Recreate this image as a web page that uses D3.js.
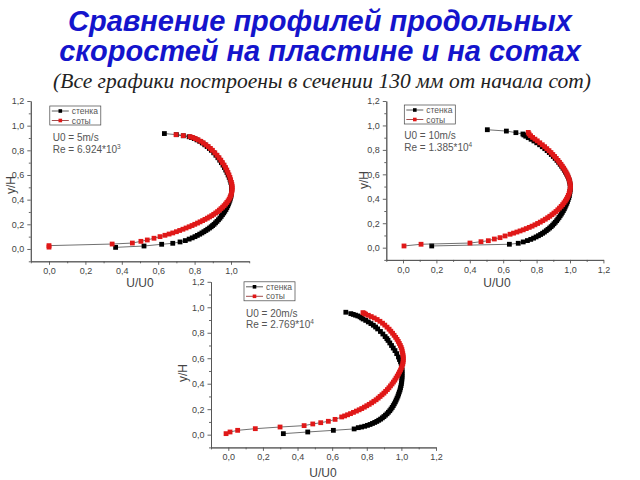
<!DOCTYPE html>
<html><head><meta charset="utf-8">
<script src="https://cdn.jsdelivr.net/npm/d3@7/dist/d3.min.js"></script>
<style>body{margin:0;background:#fff}svg{display:block}</style>
</head><body>
<svg id="c" width="640" height="480"></svg>
<script>
// ---------- data ----------
const titleLines = ["Сравнение профилей продольных", "скоростей на пластине и на сотах"];
const subtitle = "(Все графики построены в сечении 130 мм от начала сот)";
const seriesNames = ["стенка", "соты"];
const xLabel = "U/U0";
const yLabel = "y/H";
const majorTicks = [0, 0.2, 0.4, 0.6, 0.8, 1.0, 1.2];
const minorTicks = [-0.1, 0.1, 0.3, 0.5, 0.7, 0.9, 1.1];
const speeds = ["5", "10", "20"];
const reMantissa = ["6.924", "1.385", "2.769"];
const reExponent = ["3", "4", "4"];

// U0 = 5 m/s : [U/U0, y/H]
const wall5 = [[0.366,0.013],[0.522,0.024],[0.619,0.038],[0.680,0.046],[0.720,0.057],[0.749,0.068],
[0.770,0.080],[0.787,0.090],[0.802,0.100],[0.815,0.110],[0.828,0.120],[0.840,0.130],[0.851,0.140],[0.862,0.150],
[0.872,0.160],[0.882,0.170],[0.891,0.180],[0.899,0.190],[0.907,0.200],[0.915,0.212],[0.923,0.224],[0.931,0.237],
[0.939,0.250],[0.946,0.264],[0.953,0.278],[0.960,0.292],[0.966,0.306],[0.972,0.320],[0.977,0.335],[0.982,0.350],
[0.986,0.365],[0.990,0.380],[0.994,0.396],[0.997,0.412],[1.000,0.428],[1.002,0.445],[1.003,0.462],[1.004,0.480],
[1.004,0.500],[1.002,0.520],[0.999,0.540],[0.995,0.560],[0.990,0.580],[0.984,0.600],[0.978,0.620],[0.971,0.640],
[0.964,0.660],[0.956,0.680],[0.947,0.700],[0.938,0.720],[0.928,0.740],[0.917,0.760],[0.905,0.780],[0.892,0.800],
[0.881,0.815],[0.869,0.830],[0.856,0.845],[0.842,0.860],[0.828,0.873],[0.813,0.885],[0.798,0.895],[0.783,0.904],
[0.770,0.910],[0.738,0.918],[0.700,0.927],[0.634,0.936]];
const cells5 = [[0.000,0.015],[0.000,0.027],[0.347,0.040],[0.458,0.048],[0.505,0.062],[0.540,0.073],[0.577,0.087],
[0.610,0.100],[0.637,0.111],[0.660,0.121],[0.680,0.130],[0.700,0.140],[0.718,0.150],[0.736,0.160],[0.753,0.170],
[0.770,0.180],[0.786,0.190],[0.801,0.200],[0.816,0.210],[0.830,0.220],[0.844,0.230],[0.857,0.240],[0.870,0.250],
[0.882,0.260],[0.894,0.270],[0.905,0.281],[0.916,0.292],[0.926,0.303],[0.936,0.315],[0.945,0.327],[0.954,0.339],
[0.962,0.351],[0.970,0.364],[0.977,0.377],[0.984,0.390],[0.990,0.404],[0.995,0.418],[0.999,0.432],[1.002,0.447],
[1.004,0.462],[1.006,0.477],[1.006,0.492],[1.006,0.507],[1.005,0.522],[1.002,0.540],[0.998,0.560],[0.994,0.580],
[0.989,0.600],[0.983,0.620],[0.977,0.640],[0.970,0.660],[0.962,0.680],[0.953,0.700],[0.944,0.720],[0.934,0.740],
[0.923,0.760],[0.911,0.780],[0.898,0.800],[0.887,0.815],[0.875,0.830],[0.862,0.845],[0.848,0.860],[0.834,0.873],
[0.819,0.885],[0.804,0.895],[0.790,0.904],[0.775,0.911],[0.738,0.919],[0.698,0.927]];

// U0 = 10 m/s
const wall10 = [[0.172,0.014],[0.637,0.028],[0.690,0.036],[0.720,0.047],[0.745,0.058],[0.765,0.068],[0.782,0.078],
[0.797,0.088],[0.811,0.098],[0.824,0.108],[0.836,0.118],[0.847,0.128],[0.858,0.139],[0.868,0.150],[0.878,0.161],
[0.887,0.172],[0.896,0.184],[0.904,0.196],[0.912,0.208],[0.920,0.221],[0.927,0.234],[0.934,0.247],[0.941,0.261],
[0.948,0.275],[0.954,0.289],[0.960,0.303],[0.966,0.318],[0.971,0.333],[0.976,0.348],[0.981,0.363],[0.985,0.378],
[0.989,0.394],[0.993,0.410],[0.996,0.426],[0.998,0.442],[1.000,0.458],[1.001,0.474],[1.002,0.490],[1.002,0.506],
[1.000,0.522],[0.998,0.538],[0.995,0.554],[0.991,0.570],[0.986,0.586],[0.980,0.602],[0.973,0.618],[0.966,0.634],
[0.958,0.650],[0.950,0.666],[0.941,0.682],[0.932,0.698],[0.922,0.714],[0.911,0.730],[0.900,0.746],[0.888,0.762],
[0.876,0.778],[0.863,0.794],[0.849,0.810],[0.834,0.826],[0.818,0.842],[0.801,0.858],[0.784,0.873],[0.767,0.887],
[0.750,0.900],[0.735,0.912],[0.724,0.922],[0.718,0.930],[0.676,0.941],[0.619,0.954],[0.505,0.965]];
const cells10 = [[0.006,0.014],[0.108,0.028],[0.401,0.038],[0.467,0.049],[0.511,0.057],[0.547,0.071],[0.581,0.082],
[0.611,0.096],[0.641,0.110],[0.662,0.119],[0.682,0.128],[0.701,0.137],[0.720,0.146],[0.738,0.156],[0.756,0.166],
[0.773,0.176],[0.790,0.187],[0.806,0.198],[0.822,0.209],[0.837,0.221],[0.852,0.233],[0.866,0.245],[0.879,0.257],
[0.892,0.270],[0.904,0.283],[0.916,0.296],[0.927,0.310],[0.937,0.324],[0.947,0.338],[0.956,0.352],[0.964,0.367],
[0.972,0.382],[0.979,0.397],[0.985,0.412],[0.990,0.428],[0.995,0.444],[0.998,0.460],[1.001,0.476],[1.002,0.492],
[1.002,0.506],[1.001,0.522],[0.999,0.538],[0.996,0.554],[0.992,0.570],[0.987,0.586],[0.982,0.602],[0.976,0.618],
[0.969,0.634],[0.962,0.650],[0.954,0.666],[0.946,0.682],[0.937,0.698],[0.928,0.714],[0.918,0.730],[0.908,0.746],
[0.897,0.762],[0.886,0.778],[0.874,0.794],[0.861,0.810],[0.848,0.826],[0.834,0.842],[0.819,0.858],[0.804,0.874],
[0.790,0.888],[0.776,0.902],[0.764,0.916],[0.755,0.930],[0.750,0.943]];

// U0 = 20 m/s
const wall20 = [[0.318,0.008],[0.459,0.021],[0.607,0.034],[0.727,0.045],[0.751,0.055],[0.770,0.060],[0.788,0.066],
[0.804,0.073],[0.819,0.080],[0.833,0.088],[0.846,0.096],[0.858,0.104],[0.869,0.113],[0.880,0.122],[0.890,0.132],
[0.899,0.142],[0.908,0.153],[0.917,0.164],[0.925,0.176],[0.933,0.188],[0.940,0.201],[0.947,0.214],[0.953,0.228],
[0.959,0.242],[0.965,0.257],[0.970,0.272],[0.975,0.287],[0.980,0.303],[0.984,0.319],[0.988,0.335],[0.992,0.351],
[0.995,0.368],[0.998,0.385],[1.000,0.402],[1.002,0.419],[1.003,0.436],[1.004,0.453],[1.004,0.470],[1.004,0.487],
[1.004,0.504],[1.003,0.521],[1.001,0.538],[0.999,0.555],[0.995,0.572],[0.989,0.590],[0.983,0.610],[0.973,0.636],
[0.963,0.660],[0.953,0.680],[0.943,0.700],[0.933,0.720],[0.923,0.740],[0.916,0.754],[0.906,0.770],[0.893,0.790],
[0.879,0.810],[0.863,0.830],[0.851,0.845],[0.838,0.859],[0.824,0.872],[0.809,0.885],[0.794,0.897],[0.779,0.908],
[0.770,0.917],[0.761,0.925],[0.748,0.932],[0.735,0.938],[0.722,0.944],[0.708,0.950],[0.679,0.961]];
const cells20 = [[-0.013,0.008],[0.010,0.021],[0.054,0.034],[0.156,0.047],[0.299,0.060],[0.438,0.071],[0.488,0.084],
[0.534,0.094],[0.578,0.105],[0.617,0.120],[0.655,0.139],[0.672,0.147],[0.689,0.156],[0.706,0.165],[0.723,0.175],
[0.740,0.185],[0.756,0.195],[0.771,0.205],[0.786,0.216],[0.800,0.227],[0.814,0.238],[0.828,0.250],[0.841,0.262],
[0.854,0.274],[0.866,0.287],[0.877,0.300],[0.888,0.313],[0.899,0.326],[0.909,0.340],[0.919,0.354],[0.928,0.368],
[0.937,0.383],[0.946,0.398],[0.954,0.413],[0.962,0.428],[0.969,0.444],[0.976,0.460],[0.983,0.476],[0.989,0.492],
[0.995,0.508],[1.000,0.524],[1.004,0.540],[1.008,0.556],[1.010,0.572],[1.011,0.588],[1.011,0.604],[1.010,0.620],
[1.008,0.636],[1.005,0.652],[1.003,0.668],[0.999,0.684],[0.994,0.700],[0.988,0.716],[0.982,0.732],[0.975,0.748],
[0.967,0.764],[0.958,0.780],[0.949,0.796],[0.939,0.812],[0.929,0.828],[0.917,0.844],[0.904,0.860],[0.891,0.875],
[0.876,0.890],[0.860,0.904],[0.843,0.916],[0.826,0.927],[0.809,0.937],[0.793,0.946],[0.785,0.953],[0.778,0.958]];

const wallSeries = [wall5, wall10, wall20];
const cellSeries = [cells5, cells10, cells20];

// ---------- layout (positions only) ----------
const layouts = [
  {x0:30.8, x1:249.2, xMax:1.1, y0:261.3, y1:101,  leg:[19,5],  ann:[22,40], xl:[140,287], yl:[11,185]},
  {x0:386.3, x1:603.4, xMax:1.2, y0:259.9, y1:101, leg:[18,4],  ann:[18,38], xl:[497,287], yl:[364,180]},
  {x0:211,  x1:436,  xMax:1.2, y0:447.4, y1:281.8, leg:[33,0],  ann:[35,35], xl:[323,477], yl:[183,373]}
];
const FONT = "'Liberation Sans', Arial, sans-serif";
const fmt = v => d3.format(".1f")(v).replace(".", ",");
const svg = d3.select("#c");

// titles
const titleStyle = s => s.attr("text-anchor", "middle").style("font-family", FONT)
  .style("font-weight", "bold").style("font-style", "italic").style("font-size", "29px").attr("fill", "#1414cc");
svg.append("text").attr("x", 320).attr("y", 31).call(titleStyle).text(titleLines[0]);
svg.append("text").attr("x", 320).attr("y", 61).call(titleStyle).text(titleLines[1]);
svg.append("text").attr("x", 322).attr("y", 88).attr("text-anchor", "middle")
  .style("font-family", "'Liberation Serif', 'Times New Roman', serif").style("font-style", "italic")
  .style("font-size", "21.5px").attr("fill", "#222").text(subtitle);

const MS = 4.8;
layouts.forEach((L, i) => {
  const x = d3.scaleLinear().domain([-0.1, L.xMax]).range([L.x0, L.x1]);
  const y = d3.scaleLinear().domain([-0.1, 1.2]).range([L.y0, L.y1]);
  const g = svg.append("g");

  const xMaj = majorTicks.filter(v => v <= L.xMax + 1e-9);
  const xMin = minorTicks.filter(v => v <= L.xMax + 1e-9);
  const styleAxis = a => {
    a.selectAll("path,line").attr("stroke", "#555").attr("stroke-width", 0.9);
    a.selectAll("text").style("font-family", FONT).style("font-size", "9px").attr("fill", "#444");
  };
  g.append("g").attr("transform", `translate(0,${L.y0})`)
    .call(d3.axisBottom(x).tickValues(xMaj).tickFormat(fmt).tickSize(3.5).tickSizeOuter(0).tickPadding(3)).call(styleAxis);
  g.append("g").attr("transform", `translate(0,${L.y0})`)
    .call(d3.axisBottom(x).tickValues(xMin).tickFormat("").tickSize(2).tickSizeOuter(0)).call(styleAxis);
  g.append("g").attr("transform", `translate(${L.x0},0)`)
    .call(d3.axisLeft(y).tickValues(majorTicks).tickFormat(fmt).tickSize(3.5).tickSizeOuter(0).tickPadding(3)).call(styleAxis);
  g.append("g").attr("transform", `translate(${L.x0},0)`)
    .call(d3.axisLeft(y).tickValues(minorTicks).tickFormat("").tickSize(2).tickSizeOuter(0)).call(styleAxis);

  // axis labels
  g.append("text").attr("x", L.xl[0]).attr("y", L.xl[1]).attr("text-anchor", "middle")
    .style("font-family", FONT).style("font-size", "12px").attr("fill", "#444").text(xLabel);
  g.append("text").attr("transform", `translate(${L.yl[0]},${L.yl[1]}) rotate(-90)`).attr("text-anchor", "middle")
    .attr("dy", "0.35em").style("font-family", FONT).style("font-size", "12px").attr("fill", "#444").text(yLabel);

  const line = d3.line().x(d => x(d[0])).y(d => y(d[1]));
  const drawSeries = (data, color) => {
    g.append("path").datum(data).attr("d", line).attr("fill", "none")
      .attr("stroke", "#333").attr("stroke-width", 0.7);
    g.append("g").selectAll("rect").data(data).join("rect")
      .attr("x", d => x(d[0]) - MS / 2).attr("y", d => y(d[1]) - MS / 2)
      .attr("width", MS).attr("height", MS).attr("fill", color);
  };
  drawSeries(wallSeries[i], "#000");
  drawSeries(cellSeries[i], "#e01818");

  // legend
  const lx = L.x0 + L.leg[0], ly = L.y1 + L.leg[1];
  g.append("rect").attr("x", lx).attr("y", ly).attr("width", 51).attr("height", 19)
    .attr("fill", "#fff").attr("stroke", "#444").attr("stroke-width", 0.7);
  [["#000", "#333"], ["#e01818", "#8a2020"]].forEach((c, k) => {
    const cy = ly + 5 + k * 9.5;
    g.append("line").attr("x1", lx + 2).attr("x2", lx + 19).attr("y1", cy).attr("y2", cy)
      .attr("stroke", c[1]).attr("stroke-width", 0.8);
    g.append("rect").attr("x", lx + 10.5 - 1.8).attr("y", cy - 1.8).attr("width", 3.6).attr("height", 3.6).attr("fill", c[0]);
    g.append("text").attr("x", lx + 22).attr("y", cy + 3).style("font-family", FONT)
      .style("font-size", "8.5px").attr("fill", "#555").text(seriesNames[k]);
  });

  // annotation
  const ax = L.x0 + L.ann[0], ay = L.y1 + L.ann[1];
  g.append("text").attr("x", ax).attr("y", ay).style("font-family", FONT).style("font-size", "10px")
    .attr("fill", "#555").text(`U0 = ${speeds[i]}m/s`);
  const re = g.append("text").attr("x", ax).attr("y", ay + 11.5).style("font-family", FONT)
    .style("font-size", "10px").attr("fill", "#555");
  re.append("tspan").text(`Re = ${reMantissa[i]}*10`);
  re.append("tspan").attr("dy", -4).style("font-size", "6.5px").text(reExponent[i]);
});
</script>
</body></html>
